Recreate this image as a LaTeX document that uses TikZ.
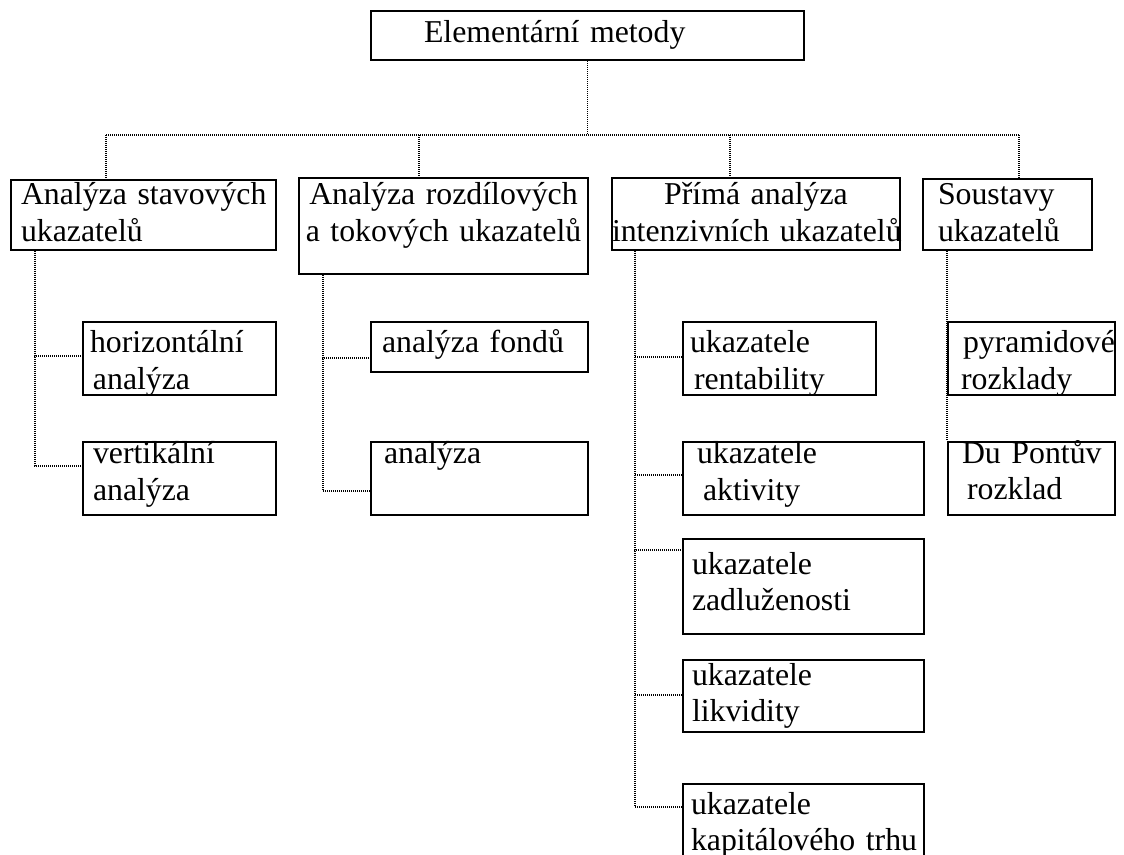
\documentclass[tikz,border=0pt]{standalone}
\usepackage{fontspec}
\setmainfont{Liberation Serif}
\usetikzlibrary{calc}
\hyphenpenalty=10000
\exhyphenpenalty=10000

\begin{document}
\begin{tikzpicture}[x=0.5pt, y=-0.5pt,
    box/.style={draw, line width=1pt, anchor=north west, inner ysep=0pt, align=left,
        font=\fontsize{15.9pt}{18.3pt}\selectfont},
    link/.style={line width=0.6pt, dash pattern=on 0.5pt off 0.5pt}]
    \useasboundingbox (0,0) rectangle (1124,855);
    \clip (0,0) rectangle (1124,855);

    % Root
    \node[box, inner xsep=26.5pt, text width=163.5pt, text height=16pt, text depth=8.5pt] (top) at (370,10) {Elementární~metody};

    % Level 1
    \node[box, inner xsep=5pt, text width=122.5pt, text height=12.5pt, text depth=22.5pt] (A) at (10,179) {Analýza~stavových\\ukazatelů};
    \node[box, inner xsep=0pt, text width=144.5pt, align=center, text height=13.5pt, text depth=34.5pt] (B) at (298,177) {Analýza~rozdílových\\a~tokových~ukazatelů};
    \node[box, inner xsep=0pt, text width=144pt, align=center, text height=13.5pt, text depth=22.5pt] (C) at (611,177) {Přímá~analýza\\intenzivních~ukazatelů};
    \node[box, inner xsep=7.5pt, text width=69.5pt, text height=13pt, text depth=22.5pt] (D) at (922,178) {Soustavy\\ukazatelů};

    % Level 2 - stavove
    \node[box, inner xsep=3.5pt, text width=89.5pt, text height=15.5pt, text depth=21pt] (A1) at (82,321) {horizontální\\\hspace*{1.5pt}analýza};
    \node[box, inner xsep=5pt, text width=86.5pt, text height=11pt, text depth=25.5pt] (A2) at (82,441) {vertikální\\analýza};

    % Level 2 - rozdilove
    \node[box, inner xsep=5.5pt, text width=97.5pt, text height=15.5pt, text depth=9.5pt] (B1) at (370,321) {analýza~fondů};
    \node[box, inner xsep=6.5pt, text width=95.5pt, text height=11pt, text depth=25.5pt] (B2) at (370,441) {analýza};

    % Level 2 - pomerove
    \node[box, inner xsep=3.5pt, text width=89.5pt, text height=15.5pt, text depth=21pt] (C1) at (682,321) {ukazatele\\\hspace*{2pt}rentability};
    \node[box, inner xsep=7pt, text width=106.5pt, text height=11pt, text depth=25.5pt] (C2) at (682,441) {ukazatele\\\hspace*{3pt}aktivity};
    \node[box, inner xsep=4.5pt, text width=111.5pt, text height=17.5pt, text depth=30pt] (C3) at (682,538) {ukazatele\\zadluženosti};
    \node[box, inner xsep=4.5pt, text width=111.5pt, text height=12.5pt, text depth=23.5pt] (C4) at (682,659) {ukazatele\\likvidity};
    \node[box, inner xsep=4pt, text width=112.5pt, text height=15pt, text depth=30pt] (C5) at (682,783) {ukazatele\\kapitálového~trhu};

    % Level 2 - soustavy
    \node[box, inner xsep=7.5pt, text width=68.5pt, text height=15.5pt, text depth=21pt] (D1) at (947,321) {pyramidové\\\hspace*{-1pt}rozklady};
    \node[box, inner xsep=7pt, text width=69.5pt, text height=10.5pt, text depth=26pt] (D2) at (947,441) {Du~Pontův\\\hspace*{2.5pt}rozklad};

    % Connectors from the root
    \coordinate (busL) at (106,135);
    \coordinate (busR) at (1019,135);
    \coordinate (dropB) at (419,135);
    \coordinate (dropC) at (730,135);
    \draw[link] (top.south) -- (top.south |- busL);
    \draw[link] (busL) -- (busR);
    \draw[link] (busL) -- (busL |- A.north);
    \draw[link] (dropB) -- (dropB |- B.north);
    \draw[link] (dropC) -- (dropC |- C.north);
    \draw[link] (busR) -- (busR |- D.north);

    % Spines
    \coordinate (spineA) at (35,0);
    \coordinate (spineB) at (323,0);
    \coordinate (spineC) at (635,0);
    \draw[link] (A.south -| spineA) |- ([yshift=1.25pt]A1.west);
    \draw[link] (A.south -| spineA) |- ([yshift=6.25pt]A2.west);
    \draw[link] (B.south -| spineB) |- ([yshift=-5.5pt]B1.west);
    \draw[link] (B.south -| spineB) |- ([yshift=-6.25pt]B2.west);
    \foreach \n/\dy in {C1/0.75pt, C2/1.75pt, C3/18.25pt, C4/0.5pt}
        \draw[link] (C.south -| spineC) |- ([yshift=\dy]\n.west);
    \draw[link] (C.south -| spineC) |- ([yshift=-12pt]C5.north west);
    \draw[link] (D.south -| D1.west) -- (D2.north west);
\end{tikzpicture}
\end{document}
